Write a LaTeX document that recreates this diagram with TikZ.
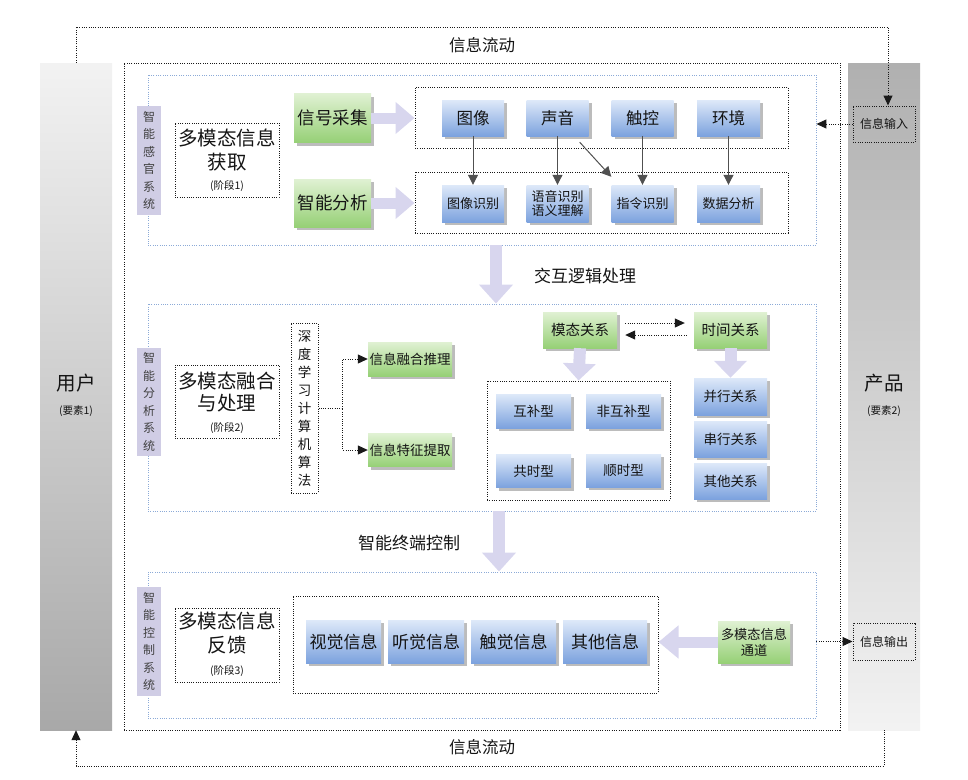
\documentclass[tikz,border=0pt]{standalone}
\usepackage{fontspec}
\setmainfont{Noto Sans CJK SC}
\usetikzlibrary{arrows.meta,shadows}
\definecolor{blu1}{RGB}{222,233,249}
\definecolor{blu2}{RGB}{124,162,222}
\definecolor{grn1}{RGB}{224,241,211}
\definecolor{grn2}{RGB}{150,208,118}
\definecolor{shd}{RGB}{188,188,188}
\definecolor{sidec}{RGB}{208,205,229}
\definecolor{arrc}{RGB}{216,214,238}
\definecolor{bluedot}{RGB}{140,170,215}
\definecolor{txt}{RGB}{20,20,20}
\definecolor{arrgray}{RGB}{80,80,80}
\begin{document}
\begin{tikzpicture}[x=1pt,y=-1pt,
  dots/.style={draw=black!90, line width=1pt, dash pattern=on 1pt off 1.3pt},
  bdots/.style={draw=bluedot, line width=0.9pt, dash pattern=on 1pt off 1.3pt},
  box/.style={rectangle, inner sep=0pt, align=center, text=txt},
  wh/.style 2 args={minimum width=#1pt, minimum height=#2pt},
  shadowed/.style={drop shadow={shadow xshift=3pt, shadow yshift=-3pt, fill=shd, opacity=1}},
  bluebox/.style={box, top color=blu1, bottom color=blu2, shadowed},
  greenbox/.style={box, top color=grn1, bottom color=grn2, shadowed},
  side/.style={box, fill=sidec, text=black!75, minimum width=24pt, font=\fontsize{12}{17.5}\selectfont},
  bigarrow/.style={draw=arrc, line width=11pt, -{Triangle[width=31pt,length=19pt]}},
  bigdown/.style={draw=arrc, line width=12pt, -{Triangle[width=33pt,length=19pt]}},
  arr/.style={draw=arrgray, line width=1pt, -{Triangle[width=10pt,length=10pt]}},
  dotarrow/.style={dots, -{Triangle[width=9pt,length=10pt]}},
  lbl/.style={text=txt, inner sep=0pt}
]
\useasboundingbox (0,0) rectangle (968,779);

% side bars
\node[box, wh={72}{667}, top color=black!5, bottom color=black!34] (user) at (76,396.5) {};
\node[box, wh={72}{667}, top color=black!31, bottom color=black!5] (prod) at (884,396.5) {};
\node[lbl, font=\fontsize{19.5}{20}\selectfont] (usert) at (76,383) {用户};
\node[lbl, font=\fontsize{10.5}{12}\selectfont] (users) at (76,411) {(要素1)};
\node[lbl, font=\fontsize{19.5}{20}\selectfont] (prodt) at (884,383) {产品};
\node[lbl, font=\fontsize{10.5}{12}\selectfont] (prods) at (884,411) {(要素2)};

% outer frame
\node[box, dots, wh={716}{667}] (outer) at (482,396.5) {};

% information flow loops
\node[box, dots, wh={62}{36}, font=\fontsize{12}{14}\selectfont] (inbox) at (884,124) {信息输入};
\node[box, dots, wh={62}{37}, font=\fontsize{12}{14}\selectfont] (outbox) at (884,641.5) {信息输出};
\coordinate (tl) at (76,27);
\coordinate (tr) at (888,27);
\coordinate (bl) at (76,766);
\coordinate (brr) at (884,766);
\draw[dotarrow] (user.north) -- (tl) -- (tr) -- (tr |- inbox.north);
\draw[dots, {Triangle[width=9pt,length=10pt]}-] (user.south) -- (bl) -- (brr) -- (prod.south);
\node[lbl, font=\fontsize{16.5}{18}\selectfont] (flow1) at (482,45) {信息流动};
\node[lbl, font=\fontsize{16.5}{18}\selectfont] (flow2) at (482,747) {信息流动};

% section frames
\node[box, bdots, wh={668}{170}] (sec1) at (482,160) {};
\node[box, bdots, wh={668}{207}] (sec2) at (482,407.5) {};
\node[box, bdots, wh={668}{146}] (sec3) at (482,645) {};

\node[side, minimum height=109pt] (sl1) at (149,160.5) {智\\能\\感\\官\\系\\统};
\node[side, minimum height=108pt] (sl2) at (149,402) {智\\能\\分\\析\\系\\统};
\node[side, minimum height=109pt] (sl3) at (149,641.5) {智\\能\\控\\制\\系\\统};

% stage boxes
\node[box, dots, wh={104}{74}] (st1) at (227,160) {};
\node[lbl, font=\fontsize{19.5}{20}\selectfont] (st1a) at (227,138) {多模态信息};
\node[lbl, font=\fontsize{19.5}{20}\selectfont] (st1b) at (227,162) {获取};
\node[lbl, font=\fontsize{10.5}{12}\selectfont] (st1c) at (227,186) {(阶段1)};
\node[box, dots, wh={104}{73}] (st2) at (227,401.5) {};
\node[lbl, font=\fontsize{19.5}{20}\selectfont] (st2a) at (227,381) {多模态融合};
\node[lbl, font=\fontsize{19.5}{20}\selectfont] (st2b) at (227,403) {与处理};
\node[lbl, font=\fontsize{10.5}{12}\selectfont] (st2c) at (227,428) {(阶段2)};
\node[box, dots, wh={104}{74}] (st3) at (227,645) {};
\node[lbl, font=\fontsize{19.5}{20}\selectfont] (st3a) at (227,621) {多模态信息};
\node[lbl, font=\fontsize{19.5}{20}\selectfont] (st3b) at (227,645) {反馈};
\node[lbl, font=\fontsize{10.5}{12}\selectfont] (st3c) at (227,671) {(阶段3)};

% ---------- section 1 ----------
\node[greenbox, wh={77}{49}, font=\fontsize{17.5}{20}\selectfont] (sig) at (332.5,118) {信号采集};
\node[greenbox, wh={77}{48}, font=\fontsize{17.5}{20}\selectfont] (ana) at (332.5,203) {智能分析};
\node[box, dots, wh={373}{61}] (tb1) at (601.5,118) {};
\node[box, dots, wh={373}{61}] (tb2) at (601.5,202.5) {};
\draw[bigarrow] (sig.east) -- (sig.east -| tb1.west);
\draw[bigarrow] (ana.east) -- (ana.east -| tb2.west);

\node[bluebox, wh={62}{36}, font=\fontsize{16.5}{18}\selectfont] (img) at (473,118) {图像};
\node[bluebox, wh={62}{36}, font=\fontsize{16.5}{18}\selectfont] (snd) at (557.5,118) {声音};
\node[bluebox, wh={62}{36}, font=\fontsize{16.5}{18}\selectfont] (tch) at (642.5,118) {触控};
\node[bluebox, wh={63}{36}, font=\fontsize{16.5}{18}\selectfont] (env) at (728.5,118) {环境};
\node[bluebox, wh={62}{37}, font=\fontsize{13}{15}\selectfont] (imgr) at (473,203.5) {图像识别};
\node[bluebox, wh={62}{37}, font=\fontsize{13}{14.5}\selectfont] (sndr) at (557.5,203.5) {语音识别\\语义理解};
\node[bluebox, wh={62}{37}, font=\fontsize{13}{15}\selectfont] (tchr) at (642.5,203.5) {指令识别};
\node[bluebox, wh={63}{37}, font=\fontsize{13}{15}\selectfont] (envr) at (728.5,203.5) {数据分析};
\draw[arr] (img.south) -- (imgr.north);
\draw[arr] (snd.south) -- (sndr.north);
\draw[arr] (tch.south) -- (tchr.north);
\draw[arr] (env.south) -- (envr.north);
\draw[arr] ([shift={(-9pt,-6pt)}]snd.south east) -- ([shift={(0pt,8pt)}]tchr.north west);
\draw[dotarrow] (inbox.west) -- (inbox.west -| sec1.east);

% between sections
\coordinate (a12) at (496,0);
\coordinate (a23) at (499,0);
\draw[bigdown] (sec1.south -| a12) -- (sec2.north -| a12);
\draw[bigdown] (sec2.south -| a23) -- (sec3.north -| a23);
\node[lbl, font=\fontsize{17}{20}\selectfont] (lbl12) at (585,276) {交互逻辑处理};
\node[lbl, font=\fontsize{17}{20}\selectfont] (lbl23) at (409,543) {智能终端控制};

% ---------- section 2 ----------
\node[box, dots, wh={27}{170}, font=\fontsize{13.5}{18}\selectfont] (deep) at (304.5,408) {深\\度\\学\\习\\计\\算\\机\\算\\法};
\node[greenbox, wh={84}{34}, font=\fontsize{13.5}{15}\selectfont] (fuse) at (410,359) {信息融合推理};
\node[greenbox, wh={84}{33}, font=\fontsize{13.5}{15}\selectfont] (feat) at (410,450) {信息特征提取};
\draw[dotarrow] (deep.east) -- ++(24,0) |- (fuse.west);
\draw[dotarrow] (deep.east) -- ++(24,0) |- (feat.west);

\node[greenbox, wh={74}{36}, font=\fontsize{14.5}{16}\selectfont] (modal) at (580,330) {模态关系};
\node[greenbox, wh={73}{36}, font=\fontsize{14.5}{16}\selectfont] (time) at (730.5,330) {时间关系};
\draw[dotarrow, shorten <=8pt, shorten >=9pt] ([yshift=7pt]modal.east) -- ([yshift=7pt]time.west);
\draw[dotarrow, shorten <=7pt, shorten >=8pt] ([yshift=-5pt]time.west) -- ([yshift=-5pt]modal.east);

\node[box, dots, wh={183}{119}] (modbox) at (578.5,440.5) {};
\node[bluebox, wh={75}{34}, font=\fontsize{13.5}{15}\selectfont] (hb) at (533.5,411) {互补型};
\node[bluebox, wh={75}{34}, font=\fontsize{13.5}{15}\selectfont] (fhb) at (623.5,411) {非互补型};
\node[bluebox, wh={75}{33}, font=\fontsize{13.5}{15}\selectfont] (gs) at (533.5,471) {共时型};
\node[bluebox, wh={75}{33}, font=\fontsize{13.5}{15}\selectfont] (ss) at (623.5,470.5) {顺时型};

\node[bluebox, wh={73}{37}, font=\fontsize{13.5}{15}\selectfont] (bx) at (730.5,396.5) {并行关系};
\node[bluebox, wh={73}{36}, font=\fontsize{13.5}{15}\selectfont] (cx) at (730.5,439) {串行关系};
\node[bluebox, wh={73}{36}, font=\fontsize{13.5}{15}\selectfont] (qt) at (730.5,481) {其他关系};

\draw[bigdown, -{Triangle[width=32pt,length=17pt]}] (modal.south) -- (modbox.north);
\draw[bigdown, -{Triangle[width=32pt,length=17pt]}] (time.south) -- (bx.north);

% ---------- section 3 ----------
\node[box, dots, wh={365}{97}] (ob) at (475.5,644.5) {};
\node[bluebox, wh={75}{43}, font=\fontsize{17}{20}\selectfont] (vis) at (343.5,641.5) {视觉信息};
\node[bluebox, wh={76}{43}, font=\fontsize{17}{20}\selectfont] (aud) at (426,641.5) {听觉信息};
\node[bluebox, wh={85}{43}, font=\fontsize{17}{20}\selectfont] (tac) at (513.5,641.5) {触觉信息};
\node[bluebox, wh={84}{43}, font=\fontsize{17}{20}\selectfont] (oth) at (605,641.5) {其他信息};
\node[greenbox, wh={72}{42}, font=\fontsize{13.2}{16}\selectfont] (chan) at (754,642) {多模态信息\\通道};
\draw[bigarrow, -{Triangle[width=32pt,length=20pt]}] (chan.west) -- (chan.west -| ob.east);
\draw[dotarrow] (outbox.west -| sec3.east) -- (outbox.west);
\end{tikzpicture}
\end{document}
